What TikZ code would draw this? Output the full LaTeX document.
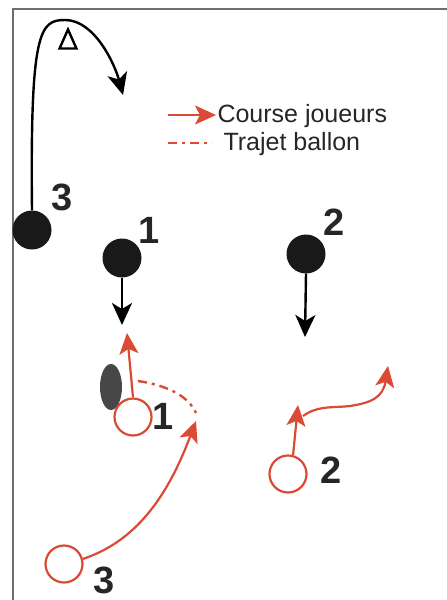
\documentclass[tikz,border=0pt]{standalone}
\usepackage{fontspec}
\setmainfont{Liberation Sans}
\usetikzlibrary{arrows.meta,shapes.geometric}
\definecolor{rougeCourse}{RGB}{218,74,52}
\definecolor{cadre}{RGB}{110,110,110}

\tikzset{
  joueur/.style={circle,fill=black!90,minimum size=39pt,inner sep=0pt},
  joueurRouge/.style={circle,draw=rougeCourse,fill=white,line width=2.2pt,minimum size=37pt,inner sep=0pt},
  numero/.style={font=\fontsize{38}{38}\selectfont\bfseries,text=black!85},
  course/.style={rougeCourse,line width=2.2pt,-{Stealth[length=21pt,width=19pt,inset=5pt]}},
  trajet/.style={rougeCourse,line width=2.4pt,dash pattern=on 9pt off 5pt on 3pt off 5pt},
  deplacement/.style={black,line width=2.4pt,-{Stealth[length=22pt,width=20pt,inset=6pt]}},
  legende/.style={font=\fontsize{25}{25}\selectfont,text=black!85,anchor=west}
}

\begin{document}
\begin{tikzpicture}[x=1pt,y=-1pt]

\useasboundingbox (0,0) rectangle (447,600);
\draw[cadre,line width=1.5pt] (447,9) -- (13,9) -- (13,600);

\node[joueur] (n3) at (32,230) {};
\node[numero] (l3) at (62,197) {3};
\node[joueur] (n1) at (122,258) {};
\node[numero] (l1) at (149,230) {1};
\node[joueur] (n2) at (306,254) {};
\node[numero] (l2) at (334,222) {2};

\node[isosceles triangle,isosceles triangle apex angle=48,shape border rotate=90,draw,line width=2.4pt,minimum height=19pt,inner sep=0pt] (plot) at (68,43) {};

\coordinate (t3) at (123,95);
\coordinate (t1) at (122,325);
\coordinate (t2) at (305,337);
\draw[deplacement] (n3.north) .. controls (30,30) and (40,20) .. (65,20) .. controls (95,20) and (115,65) .. (t3);
\draw[deplacement] (n1.south) -- (t1);
\draw[deplacement] (n2.south) -- (t2);

\coordinate (lg1) at (168,115);
\coordinate (lg1b) at (216,115);
\coordinate (lg2) at (168,143);
\coordinate (lg2b) at (212,143);
\draw[course] (lg1) -- (lg1b);
\node[legende] (txt1) at (214,116) {Course joueurs};
\draw[trajet] (lg2) -- (lg2b);
\node[legende] (txt2) at (220,144) {Trajet ballon};

\node[ellipse,fill=black!72,minimum width=22pt,minimum height=46pt,inner sep=0pt] (ballon) at (111,387) {};

\node[joueurRouge] (r1) at (133,417) {};
\node[numero] (m1) at (163,416) {1};
\node[joueurRouge] (r2) at (288,474) {};
\node[numero] (m2) at (331,470) {2};
\node[joueurRouge] (r3) at (64,564) {};
\node[numero] (m3) at (104,580) {3};

\coordinate (c1) at (127,333);
\coordinate (b1) at (138,381);
\coordinate (b2) at (196,413);
\coordinate (c3) at (196,421);
\coordinate (c2) at (298,405);
\coordinate (vague) at (303,416);
\coordinate (c2b) at (388,366);

\draw[course] (r1.north) -- (c1);
\draw[trajet] (b1) .. controls (165,385) and (188,395) .. (b2);
\draw[course] (r3.15) .. controls (140,540) and (170,490) .. (c3);
\draw[course] (r2.75) -- (c2);
\draw[course] (vague) .. controls (318,405) and (335,408) .. (350,406) .. controls (370,403) and (383,398) .. (c2b);

\end{tikzpicture}
\end{document}
